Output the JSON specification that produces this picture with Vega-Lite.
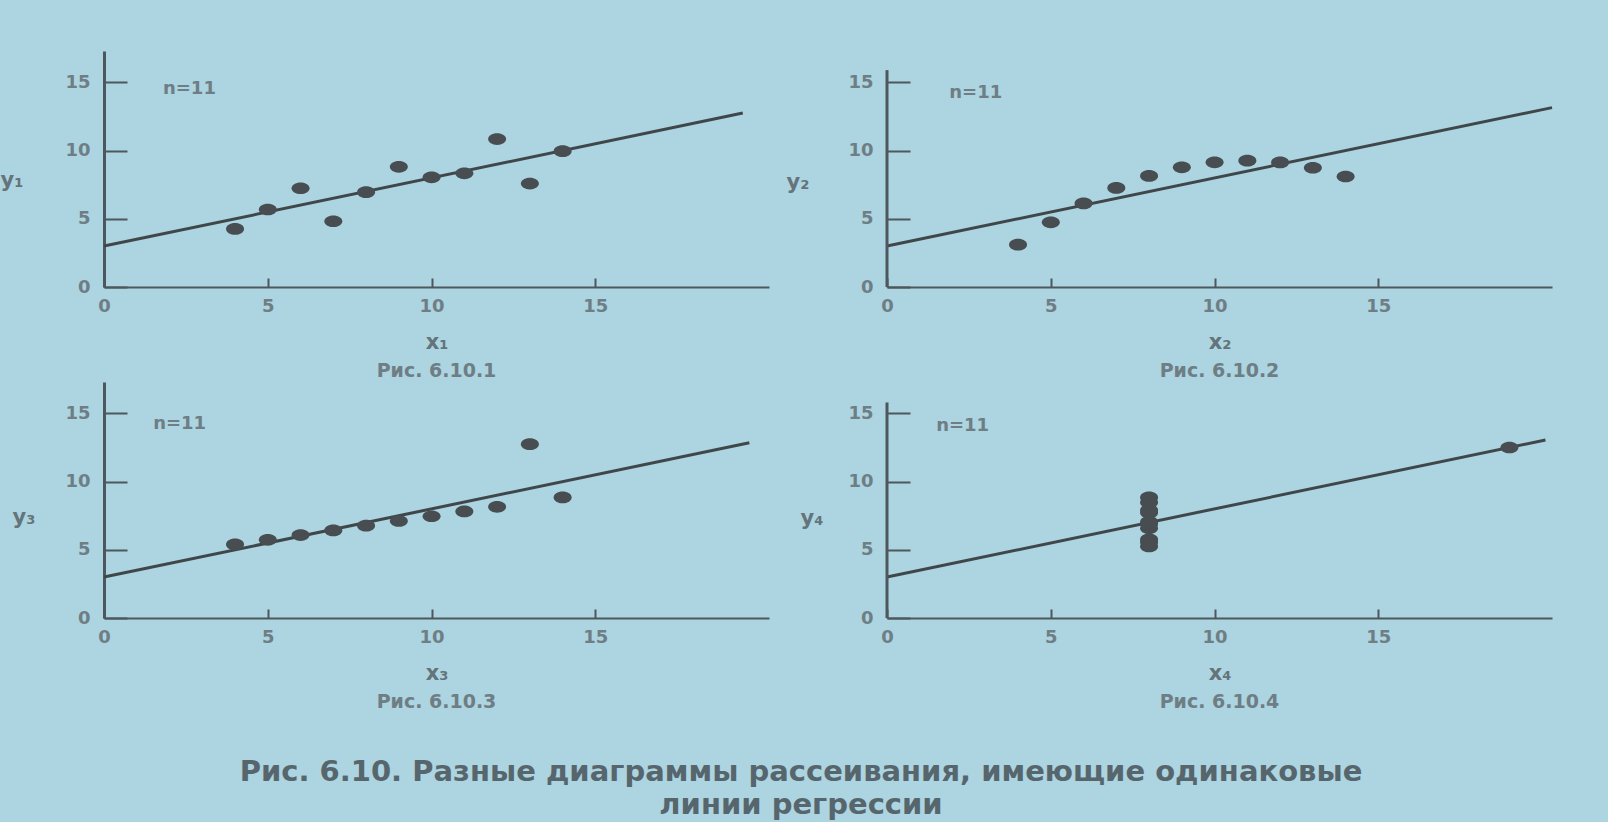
{
  "$schema": "https://vega.github.io/schema/vega-lite/v6.json",
  "background": "#acd4e1",
  "padding": {"left": 0, "top": 51, "right": 60, "bottom": 6},
  "config": {
    "view": {"stroke": null},
    "font": "DejaVu Sans",
    "axis": {
      "grid": false,
      "domainColor": "#4d575c",
      "tickColor": "#4d575c",
      "tickWidth": 2,
      "labelColor": "#6e7e84",
      "labelFont": "DejaVu Sans",
      "labelFontSize": 18,
      "labelFontWeight": "bold",
      "titleColor": "#64747a",
      "titleFont": "DejaVu Sans",
      "titleFontSize": 21,
      "titleFontWeight": "bold"
    },
    "axisX": {"tickSize": -9, "labelPadding": 19, "domainWidth": 2, "labelFlush": false, "titleY": 55, "titleBaseline": "middle"},
    "axisY": {"tickSize": -23, "labelPadding": 37, "domainWidth": 3, "titleAngle": 0, "titleAlign": "left", "titleBaseline": "middle"}
  },
  "title": {
    "text": "Рис. 6.10. Разные диаграммы рассеивания, имеющие одинаковые",
    "subtitle": "линии регрессии",
    "orient": "bottom",
    "anchor": "middle",
    "offset": 46,
    "dx": 22,
    "baseline": "top",
    "fontSize": 29,
    "font": "DejaVu Sans",
    "fontWeight": "bold",
    "color": "#56666c",
    "subtitleFontSize": 29,
    "subtitleFont": "DejaVu Sans",
    "subtitleFontWeight": "bold",
    "subtitleColor": "#56666c",
    "subtitlePadding": 4
  },
  "datasets": {
    "pts": [
      {"set": "I", "x": 10, "y": 8.04}, {"set": "I", "x": 8, "y": 6.95}, {"set": "I", "x": 13, "y": 7.58}, {"set": "I", "x": 9, "y": 8.81}, {"set": "I", "x": 11, "y": 8.33}, {"set": "I", "x": 14, "y": 9.96}, {"set": "I", "x": 6, "y": 7.24}, {"set": "I", "x": 4, "y": 4.26}, {"set": "I", "x": 12, "y": 10.84}, {"set": "I", "x": 7, "y": 4.82}, {"set": "I", "x": 5, "y": 5.68},
      {"set": "II", "x": 10, "y": 9.14}, {"set": "II", "x": 8, "y": 8.14}, {"set": "II", "x": 13, "y": 8.74}, {"set": "II", "x": 9, "y": 8.77}, {"set": "II", "x": 11, "y": 9.26}, {"set": "II", "x": 14, "y": 8.10}, {"set": "II", "x": 6, "y": 6.13}, {"set": "II", "x": 4, "y": 3.10}, {"set": "II", "x": 12, "y": 9.13}, {"set": "II", "x": 7, "y": 7.26}, {"set": "II", "x": 5, "y": 4.74},
      {"set": "III", "x": 10, "y": 7.46}, {"set": "III", "x": 8, "y": 6.77}, {"set": "III", "x": 13, "y": 12.74}, {"set": "III", "x": 9, "y": 7.11}, {"set": "III", "x": 11, "y": 7.81}, {"set": "III", "x": 14, "y": 8.84}, {"set": "III", "x": 6, "y": 6.08}, {"set": "III", "x": 4, "y": 5.39}, {"set": "III", "x": 12, "y": 8.15}, {"set": "III", "x": 7, "y": 6.42}, {"set": "III", "x": 5, "y": 5.73},
      {"set": "IV", "x": 8, "y": 6.58}, {"set": "IV", "x": 8, "y": 5.76}, {"set": "IV", "x": 8, "y": 7.71}, {"set": "IV", "x": 8, "y": 8.84}, {"set": "IV", "x": 8, "y": 8.47}, {"set": "IV", "x": 8, "y": 7.04}, {"set": "IV", "x": 8, "y": 5.25}, {"set": "IV", "x": 19, "y": 12.50}, {"set": "IV", "x": 8, "y": 5.56}, {"set": "IV", "x": 8, "y": 7.91}, {"set": "IV", "x": 8, "y": 6.89}
    ],
    "reg": [
      {"set": "I", "x": 0, "y": 3}, {"set": "I", "x": 19.5, "y": 12.75},
      {"set": "II", "x": 0, "y": 3}, {"set": "II", "x": 20.3, "y": 13.15},
      {"set": "III", "x": 0, "y": 3}, {"set": "III", "x": 19.7, "y": 12.85},
      {"set": "IV", "x": 0, "y": 3}, {"set": "IV", "x": 20.1, "y": 13.05}
    ]
  },
  "concat": [
    {
      "width": 665, "height": 236,
      "title": {"text": "Рис. 6.10.1", "orient": "bottom", "anchor": "middle", "offset": 10, "baseline": "top", "fontSize": 19, "font": "DejaVu Sans", "fontWeight": "bold", "color": "#6e7e84"},
      "layer": [
        {
          "data": {"name": "reg"},
          "transform": [{"filter": "datum.set === 'I'"}],
          "mark": {"type": "line", "color": "#3f474b", "strokeWidth": 3},
          "encoding": {
            "x": {"field": "x", "type": "quantitative", "scale": {"domain": [0, 20.3], "nice": false}, "axis": {"title": "x₁", "values": [0, 5, 10, 15]}},
            "y": {"field": "y", "type": "quantitative", "scale": {"domain": [0, 17.3], "nice": false}, "axis": {"title": "y₁", "values": [0, 5, 10, 15], "titleX": -104, "titleY": 129}}
          }
        },
        {
          "data": {"name": "pts"},
          "transform": [{"filter": "datum.set === 'I'"}],
          "mark": {"type": "point", "shape": "M-1,0A1,0.65,0,1,0,1,0A1,0.65,0,1,0,-1,0Z", "filled": true, "size": 324, "color": "#474d50", "opacity": 1},
          "encoding": {"x": {"field": "x", "type": "quantitative"}, "y": {"field": "y", "type": "quantitative"}}
        },
        {
          "data": {"values": [{"label": "n=11"}]},
          "mark": {"type": "text", "align": "left", "baseline": "middle", "fontSize": 18, "fontWeight": "bold", "color": "#6e7e84"},
          "encoding": {"x": {"datum": 1.8}, "y": {"datum": 14.5}, "text": {"field": "label"}}
        }
      ]
    },
    {
      "width": 665, "height": 236,
      "title": {"text": "Рис. 6.10.2", "orient": "bottom", "anchor": "middle", "offset": 10, "baseline": "top", "fontSize": 19, "font": "DejaVu Sans", "fontWeight": "bold", "color": "#6e7e84"},
      "layer": [
        {
          "data": {"name": "reg"},
          "transform": [{"filter": "datum.set === 'II'"}],
          "mark": {"type": "line", "color": "#3f474b", "strokeWidth": 3},
          "encoding": {
            "x": {"field": "x", "type": "quantitative", "scale": {"domain": [0, 20.3], "nice": false}, "axis": {"title": "x₂", "values": [0, 5, 10, 15]}},
            "y": {"field": "y", "type": "quantitative", "scale": {"domain": [0, 17.3], "nice": false}, "axis": {"title": "y₂", "values": [0, 5, 10, 15], "titleX": -101, "titleY": 131, "domain": false}}
          }
        },
        {
          "data": {"values": [{"part": "y axis line"}]},
          "mark": {"type": "rule", "color": "#4d575c", "strokeWidth": 3},
          "encoding": {"x": {"datum": 0}, "y": {"datum": 0}, "y2": {"datum": 15.9}}
        },
        {
          "data": {"name": "pts"},
          "transform": [{"filter": "datum.set === 'II'"}],
          "mark": {"type": "point", "shape": "M-1,0A1,0.65,0,1,0,1,0A1,0.65,0,1,0,-1,0Z", "filled": true, "size": 324, "color": "#474d50", "opacity": 1},
          "encoding": {"x": {"field": "x", "type": "quantitative"}, "y": {"field": "y", "type": "quantitative"}}
        },
        {
          "data": {"values": [{"label": "n=11"}]},
          "mark": {"type": "text", "align": "left", "baseline": "middle", "fontSize": 18, "fontWeight": "bold", "color": "#6e7e84"},
          "encoding": {"x": {"datum": 1.9}, "y": {"datum": 14.2}, "text": {"field": "label"}}
        }
      ]
    },
    {
      "width": 665, "height": 236,
      "title": {"text": "Рис. 6.10.3", "orient": "bottom", "anchor": "middle", "offset": 10, "baseline": "top", "fontSize": 19, "font": "DejaVu Sans", "fontWeight": "bold", "color": "#6e7e84"},
      "layer": [
        {
          "data": {"name": "reg"},
          "transform": [{"filter": "datum.set === 'III'"}],
          "mark": {"type": "line", "color": "#3f474b", "strokeWidth": 3},
          "encoding": {
            "x": {"field": "x", "type": "quantitative", "scale": {"domain": [0, 20.3], "nice": false}, "axis": {"title": "x₃", "values": [0, 5, 10, 15]}},
            "y": {"field": "y", "type": "quantitative", "scale": {"domain": [0, 17.3], "nice": false}, "axis": {"title": "y₃", "values": [0, 5, 10, 15], "titleX": -92, "titleY": 135}}
          }
        },
        {
          "data": {"name": "pts"},
          "transform": [{"filter": "datum.set === 'III'"}],
          "mark": {"type": "point", "shape": "M-1,0A1,0.65,0,1,0,1,0A1,0.65,0,1,0,-1,0Z", "filled": true, "size": 324, "color": "#474d50", "opacity": 1},
          "encoding": {"x": {"field": "x", "type": "quantitative"}, "y": {"field": "y", "type": "quantitative"}}
        },
        {
          "data": {"values": [{"label": "n=11"}]},
          "mark": {"type": "text", "align": "left", "baseline": "middle", "fontSize": 18, "fontWeight": "bold", "color": "#6e7e84"},
          "encoding": {"x": {"datum": 1.5}, "y": {"datum": 14.2}, "text": {"field": "label"}}
        }
      ]
    },
    {
      "width": 665, "height": 236,
      "title": {"text": "Рис. 6.10.4", "orient": "bottom", "anchor": "middle", "offset": 10, "baseline": "top", "fontSize": 19, "font": "DejaVu Sans", "fontWeight": "bold", "color": "#6e7e84"},
      "layer": [
        {
          "data": {"name": "reg"},
          "transform": [{"filter": "datum.set === 'IV'"}],
          "mark": {"type": "line", "color": "#3f474b", "strokeWidth": 3},
          "encoding": {
            "x": {"field": "x", "type": "quantitative", "scale": {"domain": [0, 20.3], "nice": false}, "axis": {"title": "x₄", "values": [0, 5, 10, 15]}},
            "y": {"field": "y", "type": "quantitative", "scale": {"domain": [0, 17.3], "nice": false}, "axis": {"title": "y₄", "values": [0, 5, 10, 15], "titleX": -87, "titleY": 136, "domain": false}}
          }
        },
        {
          "data": {"values": [{"part": "y axis line"}]},
          "mark": {"type": "rule", "color": "#4d575c", "strokeWidth": 3},
          "encoding": {"x": {"datum": 0}, "y": {"datum": 0}, "y2": {"datum": 15.8}}
        },
        {
          "data": {"name": "pts"},
          "transform": [{"filter": "datum.set === 'IV'"}],
          "mark": {"type": "point", "shape": "M-1,0A1,0.65,0,1,0,1,0A1,0.65,0,1,0,-1,0Z", "filled": true, "size": 324, "color": "#474d50", "opacity": 1},
          "encoding": {"x": {"field": "x", "type": "quantitative"}, "y": {"field": "y", "type": "quantitative"}}
        },
        {
          "data": {"values": [{"label": "n=11"}]},
          "mark": {"type": "text", "align": "left", "baseline": "middle", "fontSize": 18, "fontWeight": "bold", "color": "#6e7e84"},
          "encoding": {"x": {"datum": 1.5}, "y": {"datum": 14.1}, "text": {"field": "label"}}
        }
      ]
    }
  ],
  "columns": 2,
  "spacing": {"row": 95, "column": 118},
  "bounds": "flush"
}
